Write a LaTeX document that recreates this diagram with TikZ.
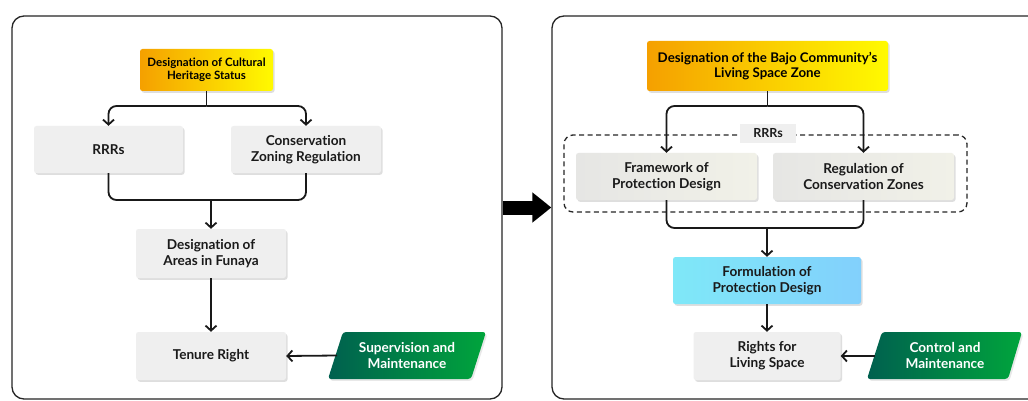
\documentclass[tikz,border=0pt]{standalone}
\usepackage{fontspec}
\setmainfont{Lato}[Ligatures=NoCommon]
\usetikzlibrary{arrows.meta,shadows,calc}
\definecolor{boxgray}{HTML}{EFEFEF}
\definecolor{txt}{HTML}{1A1A1A}
\definecolor{orangeL}{HTML}{F5A000}
\definecolor{yellowR}{HTML}{FFFA00}
\definecolor{cyanL}{HTML}{7FE8F8}
\definecolor{blueR}{HTML}{82D0FC}
\definecolor{greenL}{HTML}{00604F}
\definecolor{greenR}{HTML}{00A53C}
\definecolor{lightL}{HTML}{E6E6E4}
\definecolor{lightR}{HTML}{F1F1E8}
\tikzset{
  panel/.style={draw=black!85, line width=1.3pt, rounded corners=12pt, fill=white},
  boxbase/.style={rounded corners=2.5pt, align=center, inner sep=0pt, text=txt,
    drop shadow={shadow xshift=1.5pt, shadow yshift=-1.8pt, opacity=0.28, fill=black!45}},
  graybox/.style={boxbase, fill=boxgray},
  lightbox/.style={boxbase, left color=lightL, right color=lightR},
  topgrad/.style={boxbase, left color=orangeL, right color=yellowR, text=black},
  bluegrad/.style={boxbase, left color=cyanL, right color=blueR},
  greengrad/.style={left color=greenL, right color=greenR, rounded corners=3pt},
  whitetext/.style={align=center, text=white, inner sep=0pt},
  dashbox/.style={draw=black!85, dashed, dash pattern=on 5pt off 3.5pt, line width=1.3pt, rounded corners=9pt},
  rrrlabel/.style={fill=boxgray, text=txt, inner sep=0pt, font=\fontsize{12.5}{14}\selectfont\bfseries},
  conn/.style={draw=black!90, line width=1.8pt},
  arr/.style={-{Straight Barb[length=5pt,width=11pt]}},
  bigarrow/.style={line width=14pt, -{Triangle[length=19pt,width=29pt]}}
}
\begin{document}
\begin{tikzpicture}[x=1pt,y=-1pt, font=\fontsize{13.6}{16}\selectfont\bfseries]
\useasboundingbox (0,0) rectangle (1028,401);
\fill[white] (0,0) rectangle (1028,401);
% panels
\node[panel, minimum width=490pt, minimum height=383pt] (lp) at (257,207.5) {};
\node[panel, minimum width=488pt, minimum height=383pt] (rp) at (796,207.5) {};
\draw[bigarrow] (lp.east) -- (rp.west);

% ---------- left panel ----------
\node[topgrad, minimum width=133pt, minimum height=42pt, font=\fontsize{11.5}{13.5}\selectfont\bfseries] (dch) at (206.5,70) {Designation of Cultural\\Heritage Status};
\node[graybox, minimum width=149pt, minimum height=47pt] (rrr) at (108.5,149.5) {RRRs};
\node[graybox, minimum width=150pt, minimum height=47pt] (czr) at (306,149.5) {Conservation\\Zoning Regulation};
\node[graybox, minimum width=150pt, minimum height=49pt] (daf) at (211,253.5) {Designation of\\Areas in Funaya};
\node[graybox, minimum width=150pt, minimum height=48pt] (ten) at (211,356) {Tenure Right};
\shade[greengrad, drop shadow={shadow xshift=1.5pt, shadow yshift=-1.8pt, opacity=0.2, fill=black!45}] (328,379) -- (343,332) -- (486,332) -- (471,379) -- cycle;
\node[whitetext] (sup) at (407,355.5) {Supervision and\\Maintenance};

\coordinate (j1) at (dch.south |- 0,106);
\draw[conn] (dch.south) -- (j1);
\draw[conn, arr, rounded corners=8pt] (j1) -| (rrr.north);
\draw[conn, arr, rounded corners=8pt] (j1) -| (czr.north);
\coordinate (m1) at (daf.north |- 0,200);
\draw[conn, rounded corners=8pt] (rrr.south) |- (m1);
\draw[conn, rounded corners=8pt] (czr.south) |- (m1);
\draw[conn, arr] (m1) -- (daf.north);
\draw[conn, arr] (daf.south) -- (ten.north);
\coordinate (supL) at (337,355.5);
\draw[conn, arr] (supL) -- (ten.east);

% ---------- right panel ----------
\node[topgrad, minimum width=241pt, minimum height=50pt, font=\fontsize{13.3}{15}\selectfont\bfseries] (dbc) at (767.5,66) {Designation of the Bajo Community’s\\Living Space Zone};
\node[dashbox, minimum width=403pt, minimum height=77pt] (rbox) at (765.5,173.5) {};
\node[rrrlabel, minimum width=56pt, minimum height=19pt] (rlab) at (768,133.5) {RRRs};
\node[lightbox, minimum width=181pt, minimum height=47pt] (fpd) at (666.5,176.5) {Framework of\\Protection Design};
\node[lightbox, minimum width=181pt, minimum height=47pt] (rcz) at (863.5,176.5) {Regulation of\\Conservation Zones};
\node[bluegrad, minimum width=188pt, minimum height=47pt] (form) at (767,280.5) {Formulation of\\Protection Design};
\node[graybox, minimum width=147pt, minimum height=48pt] (rls) at (767,356) {Rights for\\Living Space};
\shade[greengrad, drop shadow={shadow xshift=1.5pt, shadow yshift=-1.8pt, opacity=0.2, fill=black!45}] (867,379) -- (882,332) -- (1022,332) -- (1008,379) -- cycle;
\node[whitetext] (cm) at (945,355.5) {Control and\\Maintenance};

\coordinate (j2) at (dbc.south |- 0,106);
\draw[conn] (dbc.south) -- (j2);
\draw[conn, arr, rounded corners=8pt] (j2) -| (fpd.north);
\draw[conn, arr, rounded corners=8pt] (j2) -| (rcz.north);
\coordinate (m2) at (form.north |- 0,228);
\draw[conn, rounded corners=8pt] (fpd.south) |- (m2);
\draw[conn, rounded corners=8pt] (rcz.south) |- (m2);
\draw[conn, arr] (m2) -- (form.north);
\draw[conn, arr] (form.south) -- (rls.north);
\coordinate (cmL) at (875,356);
\draw[conn, arr] (cmL) -- (rls.east);
\end{tikzpicture}
\end{document}
